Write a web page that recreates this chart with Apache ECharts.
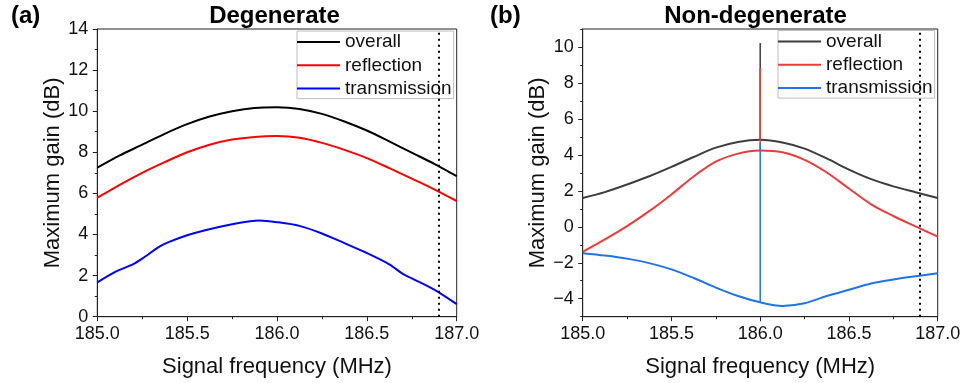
<!DOCTYPE html>
<html><head><meta charset="utf-8">
<script src="https://cdn.jsdelivr.net/npm/echarts@6/dist/echarts.min.js"></script>
<style>html,body{margin:0;padding:0;background:#fff}#c{width:964px;height:383px}</style>
</head><body><div id="c"></div>
<script>
// ---------- data: panel (a) Degenerate ----------
const freqA = [185.0,185.125,185.25,185.375,185.5,185.625,185.75,185.875,186.0,186.125,186.25,186.375,186.5,186.625,186.75,186.875,187.0];
const overallA = [7.25,7.85,8.37,8.9,9.37,9.74,10.0,10.16,10.19,10.11,9.87,9.5,9.06,8.53,7.98,7.44,6.84];
const reflectionA = [5.79,6.42,7.0,7.52,8.0,8.37,8.62,8.75,8.79,8.71,8.46,8.12,7.72,7.23,6.72,6.2,5.63];
const freqTA = [185.0,185.1,185.2,185.25,185.35,185.4,185.5,185.6,185.75,185.85,185.9,186.0,186.125,186.25,186.375,186.5,186.625,186.7,186.75,186.875,187.0];
const transmissionA = [1.67,2.18,2.56,2.83,3.43,3.64,3.96,4.21,4.5,4.64,4.68,4.6,4.42,4.05,3.58,3.1,2.55,2.08,1.87,1.32,0.61];
// ---------- data: panel (b) Non-degenerate ----------
const freqB = [185.0,185.125,185.25,185.375,185.5,185.625,185.75,185.875,186.0,186.125,186.25,186.375,186.5,186.625,186.75,186.875,187.0];
const overallB = [1.6,1.93,2.35,2.81,3.33,3.88,4.4,4.72,4.84,4.69,4.35,3.8,3.18,2.65,2.25,1.92,1.6];
const reflectionB = [-1.39,-0.7,0.04,0.87,1.8,2.8,3.62,4.07,4.24,4.14,3.72,3.02,2.13,1.25,0.6,0.02,-0.55];
const transmissionB = [-1.47,-1.6,-1.77,-2.02,-2.37,-2.85,-3.38,-3.85,-4.2,-4.4,-4.25,-3.85,-3.5,-3.15,-2.93,-2.75,-2.58];
// spike at the degenerate point (freq, from, to)
const spikeFreq = [186.0];
const spikeOverall = [4.84, 10.22];
const spikeReflection = [4.24, 8.83];
const spikeTransmission = [-4.2, 4.67];
// ---------- axis ticks ----------
const markerFreq = [186.9];
const yTicksB = [-4,-2,0,2,4,6,8,10];
const yMinorTicksB = [-5,-3,-1,1,3,5,7,9,11];
const seriesNames = ['overall','reflection','transmission'];
const titlesText = ['(a)','Degenerate','(b)','Non-degenerate'];

const FONT = "'Liberation Sans', Arial, sans-serif";
const AX = '#222';
const TXT = '#111';
const pairs = (xs, ys) => xs.map((x, i) => [x, ys[i]]);
const spike = (v) => [[spikeFreq[0], v[0]], [spikeFreq[0], v[1]]];
const fmtMinus = v => (v < 0 ? '\u2212' + Math.abs(v) : String(v));

function xAxisCfg(gi) {
  return {
    type: 'value', gridIndex: gi, min: 185, max: 187, interval: 0.5,
    name: 'Signal frequency (MHz)', nameLocation: 'middle', nameGap: 39,
    nameTextStyle: {fontSize: 22, fontFamily: FONT, color: TXT},
    axisLine: {show: true, onZero: false, lineStyle: {color: AX, width: 1}},
    axisTick: {show: true, length: 4.5, lineStyle: {color: AX, width: 1}},
    minorTick: {show: true, splitNumber: 2, length: 2.5, lineStyle: {color: AX, width: 1}},
    axisLabel: {fontSize: 18, fontFamily: FONT, color: TXT, margin: 8, formatter: v => v.toFixed(1)},
    splitLine: {show: false}
  };
}
const yName = {
  name: 'Maximum gain (dB)', nameLocation: 'middle', nameGap: 33,
  nameTextStyle: {fontSize: 22, fontFamily: FONT, color: TXT}
};
function legendCfg(names, left, top) {
  return {
    data: names, orient: 'vertical', left: left, top: top,
    icon: 'rect', itemWidth: 43, itemHeight: 2, itemGap: 3.3, padding: [1, 2, 0, 0],
    backgroundColor: '#fff', borderColor: '#bdbdbd', borderWidth: 1, selectedMode: false,
    formatter: n => n.replace('_b', ''),
    textStyle: {fontSize: 19, lineHeight: 20, fontFamily: FONT, color: TXT}
  };
}
function markCfg() {
  return {
    silent: true, symbol: ['none', 'none'], label: {show: false},
    lineStyle: {color: '#000', width: 2, type: [2, 4]},
    data: markerFreq.map(v => ({xAxis: v}))
  };
}
function curve(name, xi, yi, data, color, extra) {
  return Object.assign({
    name: name, type: 'line', xAxisIndex: xi, yAxisIndex: yi, data: data,
    symbol: 'none', smooth: 0.3, lineStyle: {color: color, width: 2}, itemStyle: {color: color}
  }, extra || {});
}
function spikeSeries(name, data, color) {
  return {
    name: name, type: 'line', xAxisIndex: 1, yAxisIndex: 1, data: data,
    symbol: 'none', lineStyle: {color: color, width: 1.5}, itemStyle: {color: color}
  };
}

const C_A = ['#000000', '#ff0000', '#0000ff'];
const C_B = ['#3d3d3d', '#ef3a3a', '#1e74e8'];

const option = {
  animation: false,
  backgroundColor: '#fff',
  grid: [
    {left: 97.3, right: 507.3, top: 29, bottom: 66.3, show: true, borderColor: AX, borderWidth: 1},
    {left: 582.7, right: 26.3, top: 29, bottom: 66.3, show: true, borderColor: AX, borderWidth: 1}
  ],
  xAxis: [xAxisCfg(0), xAxisCfg(1)],
  yAxis: [
    Object.assign({
      type: 'value', gridIndex: 0, min: 0, max: 14, interval: 2,
      axisLine: {show: true, lineStyle: {color: AX, width: 1}},
      axisTick: {show: true, length: 4.5, lineStyle: {color: AX, width: 1}},
      minorTick: {show: true, splitNumber: 2, length: 2.5, lineStyle: {color: AX, width: 1}},
      axisLabel: {fontSize: 18, fontFamily: FONT, color: TXT, margin: 9},
      splitLine: {show: false}
    }, yName),
    Object.assign({
      type: 'value', gridIndex: 1, min: -5, max: 11, position: 'left', offset: 0,
      axisLine: {show: true, lineStyle: {color: AX, width: 1}},
      axisTick: {show: true, length: 4.5, customValues: yTicksB, lineStyle: {color: AX, width: 1}},
      axisLabel: {fontSize: 18, fontFamily: FONT, color: TXT, margin: 9, customValues: yTicksB, formatter: fmtMinus},
      splitLine: {show: false}
    }, yName),
    {
      type: 'value', gridIndex: 1, min: -5, max: 11, position: 'left', offset: 0,
      axisLine: {show: false},
      axisTick: {show: true, length: 2.5, customValues: yMinorTicksB, lineStyle: {color: AX, width: 1}},
      axisLabel: {show: false},
      splitLine: {show: false}
    }
  ],
  legend: [
    legendCfg(seriesNames, 297, 31),
    legendCfg(seriesNames.map(n => n + '_b'), 778, 30.5)
  ],
  graphic: [
    {type: 'text', x: 11, y: 4, style: {text: titlesText[0], fontSize: 24, fontWeight: 'bold', fontFamily: FONT, fill: '#000'}},
    {type: 'text', x: 274.5, y: 4, style: {text: titlesText[1], fontSize: 24, fontWeight: 'bold', fontFamily: FONT, fill: '#000', align: 'center', textAlign: 'center'}},
    {type: 'text', x: 490, y: 4, style: {text: titlesText[2], fontSize: 24, fontWeight: 'bold', fontFamily: FONT, fill: '#000'}},
    {type: 'text', x: 755.5, y: 4, style: {text: titlesText[3], fontSize: 24, fontWeight: 'bold', fontFamily: FONT, fill: '#000', align: 'center', textAlign: 'center'}}
  ],
  series: [
    curve(seriesNames[0], 0, 0, pairs(freqA, overallA), C_A[0], {markLine: markCfg()}),
    curve(seriesNames[1], 0, 0, pairs(freqA, reflectionA), C_A[1]),
    curve(seriesNames[2], 0, 0, pairs(freqTA, transmissionA), C_A[2]),
    curve(seriesNames[0] + '_b', 1, 1, pairs(freqB, overallB), C_B[0], {markLine: markCfg()}),
    spikeSeries(seriesNames[0] + '_b', spike(spikeOverall), C_B[0]),
    curve(seriesNames[1] + '_b', 1, 1, pairs(freqB, reflectionB), C_B[1]),
    spikeSeries(seriesNames[1] + '_b', spike(spikeReflection), C_B[1]),
    curve(seriesNames[2] + '_b', 1, 1, pairs(freqB, transmissionB), C_B[2]),
    spikeSeries(seriesNames[2] + '_b', spike(spikeTransmission), C_B[2])
  ]
};
const chart = echarts.init(document.getElementById('c'));
chart.setOption(option);
</script>
</body></html>
